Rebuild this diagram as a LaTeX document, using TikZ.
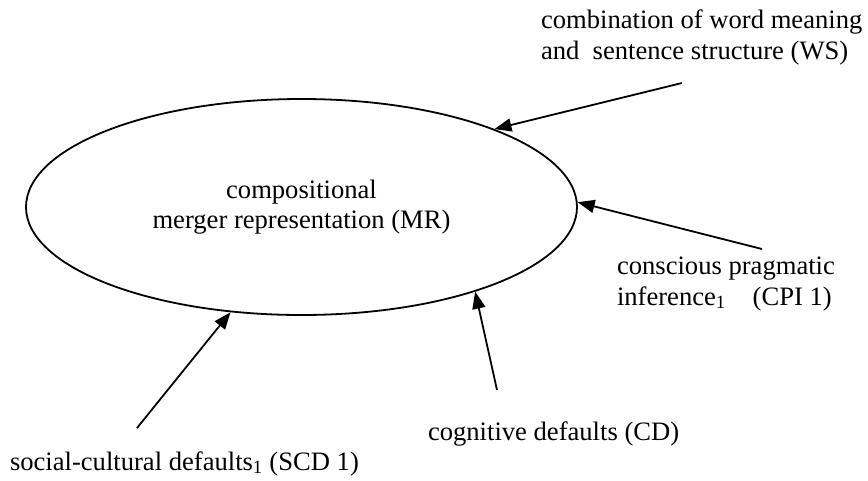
\documentclass[tikz,border=0pt]{standalone}
\usepackage{fontspec}
\setmainfont{Liberation Serif}
\usetikzlibrary{shapes.geometric,arrows.meta}
\begin{document}
\begin{tikzpicture}[x=1pt,y=-1pt,
  lbl/.style={inner sep=0pt,outer sep=0pt,anchor=base west,align=left,
    font=\fontsize{26.6}{30.5}\selectfont},
  arr/.style={line width=1.8pt,-{Triangle[length=17pt,width=13pt]}},
  mrbox/.style={draw,ellipse,line width=1.8pt,minimum width=551pt,minimum height=216pt,
    inner sep=0pt,align=center,font=\fontsize{26.6}{30.5}\selectfont}]
\useasboundingbox (0,0) rectangle (868,480);
\node[mrbox] (mr) at (301.5,207) {compositional\\merger representation (MR)};
\node[lbl] (ws) at (541,59) {combination of word meaning\\and\ \ sentence structure (WS)};
\node[lbl] (cpi) at (617,305) {conscious pragmatic\\inference\textsubscript{1}\hskip 27pt(CPI 1)};
\node[lbl] (cd) at (428,440) {cognitive defaults (CD)};
\node[lbl] (scd) at (10,470) {social-cultural defaults\textsubscript{1} (SCD 1)};
\coordinate (wsS) at (682,83);
\coordinate (cpiS) at (762,249);
\coordinate (cdS) at (497,390);
\coordinate (scdS) at (137,428);
\draw[arr] (wsS) -- (mr.22.8);
\draw[arr] (cpiS) -- (mr.1.05);
\draw[arr] (cdS) -- (mr.-26.1);
\draw[arr] (scdS) -- (mr.236.1);
\end{tikzpicture}
\end{document}
